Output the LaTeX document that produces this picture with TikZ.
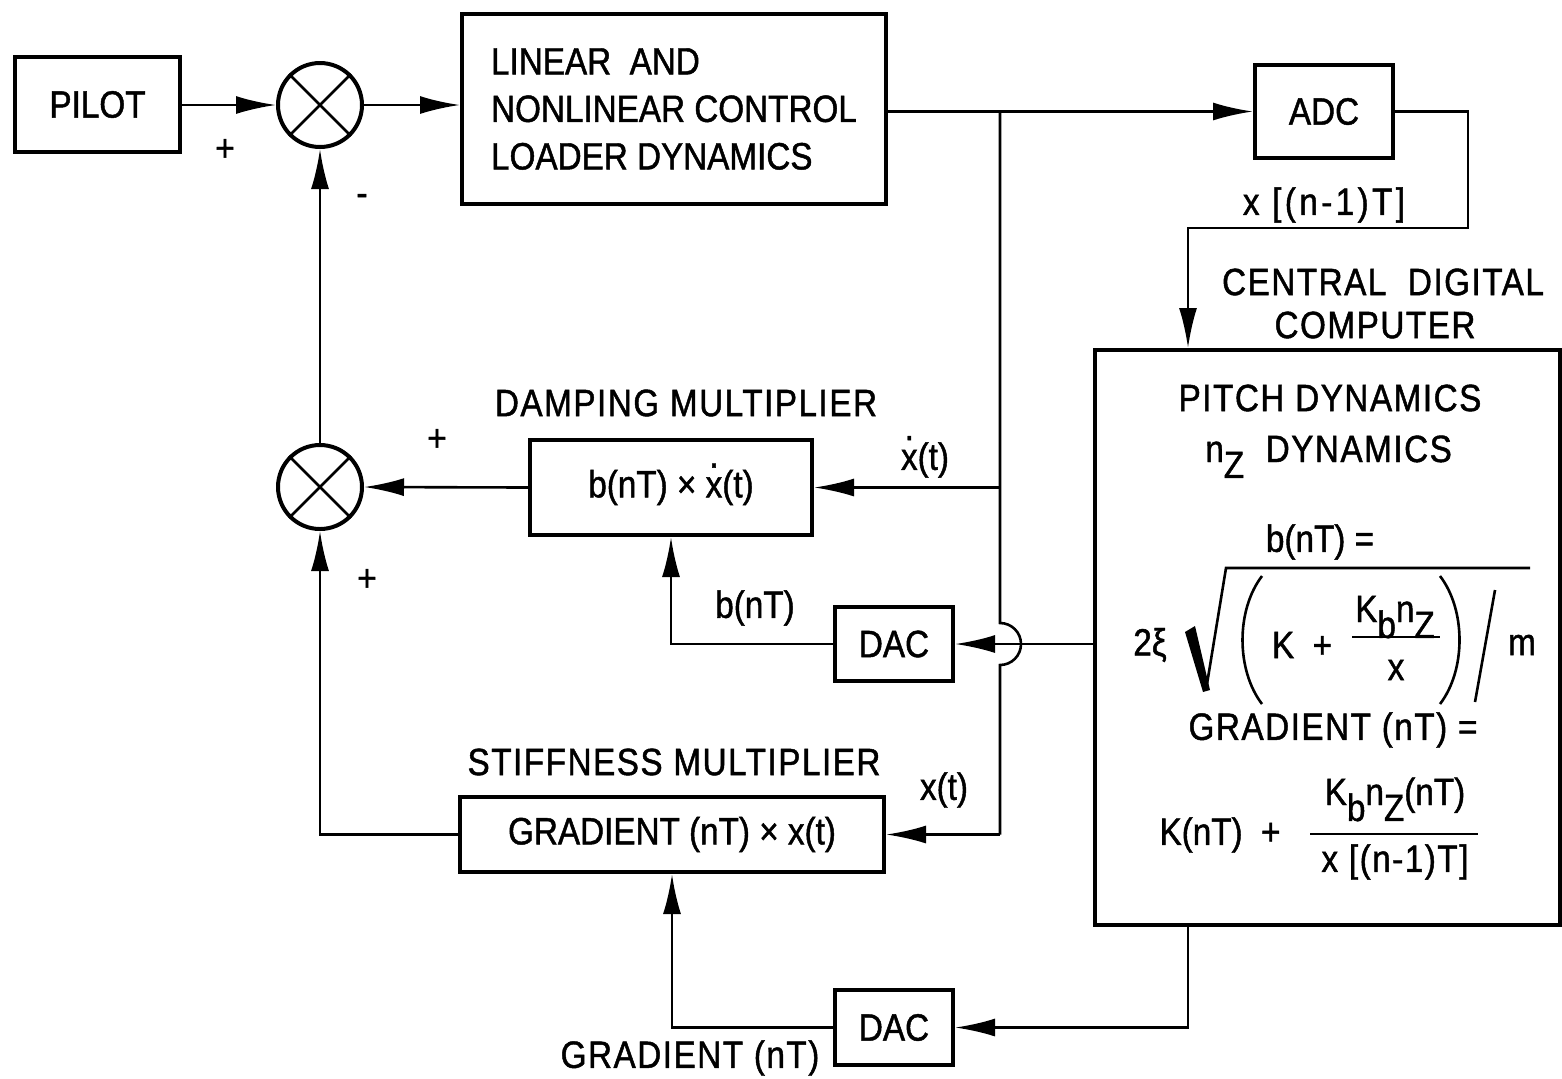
\documentclass[tikz,border=0pt]{standalone}
\usepackage{fontspec}
\setmainfont{Liberation Sans}[FakeStretch=0.875,FakeBold=1.2]
\newfontfamily\wide{Liberation Sans}[FakeStretch=0.875,FakeBold=1.2,LetterSpace=4]
\newfontfamily\wider{Liberation Sans}[FakeStretch=0.875,FakeBold=1.2,LetterSpace=9]
\usetikzlibrary{arrows.meta}
\newcommand\xdot{\ooalign{x\cr\hidewidth\raisebox{0.78em}{.}\hidewidth\cr}}
\newcommand\lo[1]{\raisebox{-0.42em}{#1}}
\begin{document}
\begin{tikzpicture}[x=0.5pt,y=-0.5pt,
  every node/.style={font=\fontsize{19}{23.75}\selectfont, inner sep=0pt},
  box/.style={draw, line width=2pt, rectangle, align=center},
  sumj/.style={draw, circle, line width=2pt, minimum size=42pt},
  arr/.style={line width=1.3pt, -{Latex[length=20pt,width=9pt]}},
  ln/.style={line width=1.3pt}]
\useasboundingbox (0,0) rectangle (1562,1078);

% blocks
\node[box, minimum width=82.5pt, minimum height=47.5pt] (pilot) at (97.5,104.5) {PILOT};
\node[sumj] (s1) at (320,105) {};
\node[sumj] (s2) at (320,487) {};
\node[box, minimum width=212pt, minimum height=95pt, align=left] (lin) at (674,109)
  {LINEAR\ \ AND\\NONLINEAR CONTROL\\LOADER DYNAMICS};
\node[box, minimum width=69pt, minimum height=46.5pt] (adc) at (1324,111.5) {ADC};
\node[box, minimum width=232.5pt, minimum height=287.5pt] (comp) at (1327.5,637.5) {};
\node[box, minimum width=141pt, minimum height=47.5pt] (damp) at (671,487.5) {b(nT) × \xdot(t)};
\node[box, minimum width=59pt, minimum height=37pt] (dac1) at (894,644) {DAC};
\node[box, minimum width=212pt, minimum height=37.5pt] (stiff) at (672,834.5) {GRADIENT (nT) × x(t)};
\node[box, minimum width=59pt, minimum height=37.5pt] (dac2) at (894,1027.5) {DAC};

% crosses in summing junctions
\foreach \s in {s1,s2}{
  \draw[ln] (\s.north west) -- (\s.south east) (\s.north east) -- (\s.south west);
}

% connectors
\draw[arr] (pilot.east |- s1) -- (s1.west);
\draw[arr] (s1.east) -- (s1.east -| lin.west);
\draw[arr] (lin.east |- adc) -- (adc.west);
\coordinate (jt) at (1000,111.5);
\coordinate (hop) at (1000,644);
\draw[ln] (jt) -- ([yshift=10.5pt]hop) arc[start angle=90, end angle=-90, radius=10.5pt] -- (stiff.east -| jt);
\draw[arr] (damp.east -| jt) -- (damp.east);
\draw[arr] (stiff.east -| jt) -- (stiff.east);
\coordinate (r1) at (1468,111.5);
\coordinate (r2) at (1468,228);
\coordinate (r3) at (1188,228);
\draw[arr] (adc.east) -- (r1) -- (r2) -- (r3) -- (r3 |- comp.north);
\draw[arr] (comp.west |- dac1) -- (dac1.east);
\draw[arr] (dac1.west) -- (dac1.west -| damp.south) -- (damp.south);
\coordinate (cb) at (1188,925);
\draw[arr] (cb) -- (cb |- dac2) -- (dac2.east);
\draw[arr] (dac2.west) -- (dac2.west -| stiff.south) -- (stiff.south);
\draw[arr] (damp.west) -- (s2.east);
\draw[arr] (stiff.west) -- (stiff.west -| s2.south) -- (s2.south);
\draw[arr] (s2.north) -- (s1.south);

% signs
\node (p1) at (225,150) {+};
\node (m1) at (362,200) {-};
\node (p2) at (437,440) {+};
\node (p3) at (367,580) {+};

% labels
\node (lx1) at (1324,205) {\wider x [(n-1)T]};
\node (lcdc) at (1383,282) {\wide CENTRAL\ \ DIGITAL};
\node (lcomp) at (1375,325) {\wide COMPUTER};
\node (ldm) at (686,403) {\wide DAMPING MULTIPLIER};
\node (lxd) at (925,460) {\xdot(t)};
\node (lb) at (755,608) {b(nT)};
\node (lsm) at (674,762) {\wide STIFFNESS MULTIPLIER};
\node (lx) at (944,790) {x(t)};
\node (lg) at (690,1058) {\wide GRADIENT (nT)};

% computer box contents
\node (t1) at (1330,398) {\wide PITCH DYNAMICS};
\node[anchor=base west] (t2) at (1205,462) {\wide n\lo{Z}\ \ DYNAMICS};
\node (t3) at (1320,542) {b(nT) =};
\node (t4) at (1150,645) {2ξ};
\fill (1185,632) -- (1195,626) -- (1210,690) -- (1203,692) -- cycle;
\draw[ln] (1206,690) -- (1226,568) -- (1530,568);
\draw[ln] (1262,576) .. controls (1236,610) and (1236,670) .. (1262,704);
\node (t5) at (1302,645) {K\ \ +};
\node[anchor=base] (t6) at (1395,622) {K\lo{b}n\lo{Z}};
\draw[ln] (1352,637) -- (1440,637);
\node (t7) at (1396,670) {x};
\draw[ln] (1440,576) .. controls (1466,610) and (1466,670) .. (1440,704);
\draw[ln] (1475,702) -- (1495,590);
\node (t8) at (1522,645) {m};
\node (t9) at (1333,730) {\wide GRADIENT (nT) =};
\node (t10) at (1220,835) {K(nT)\ \ +};
\node[anchor=base] (t11) at (1395,805) {K\lo{b}n\lo{Z}(nT)};
\draw[ln] (1310,834) -- (1478,834);
\node (t12) at (1395,862) {\wide x [(n-1)T]};
\end{tikzpicture}
\end{document}
